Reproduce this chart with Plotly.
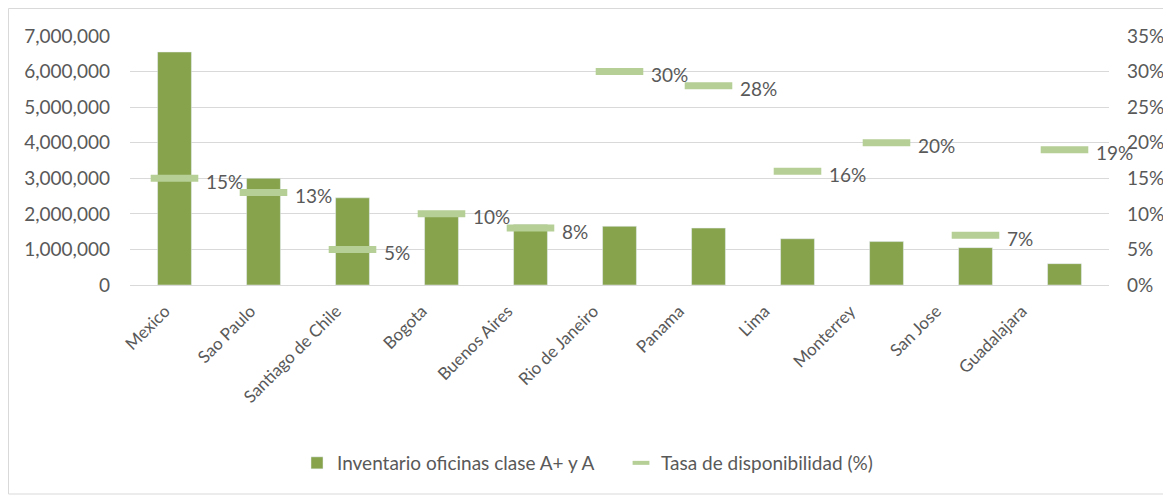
import plotly.graph_objects as go

cities = ["Mexico", "Sao Paulo", "Santiago de Chile", "Bogota", "Buenos Aires",
          "Rio de Janeiro", "Panama", "Lima", "Monterrey", "San Jose", "Guadalajara"]
inventario = [6550000, 3000000, 2450000, 2050000, 1700000, 1650000, 1600000,
              1300000, 1220000, 1050000, 600000]
tasa = [15, 13, 5, 10, 8, 30, 28, 16, 20, 7, 19]
left_ticks = [0, 1000000, 2000000, 3000000, 4000000, 5000000, 6000000, 7000000]
right_ticks = [0, 5, 10, 15, 20, 25, 30, 35]

BAR = "#87a34b"
MARK = "#b6cf96"
TXT = "#595959"
FONT = "Lato"

# figure size / plot area in figure pixels (page adds an 8px body margin)
W, H = 1163, 488
L, R, T, B = 122, 1101, 28, 277

fig = go.Figure()
fig.add_trace(go.Bar(x=cities, y=inventario, name="Inventario oficinas clase A+ y A",
                     marker=dict(color=BAR), yaxis="y"))
fig.add_trace(go.Scatter(x=cities, y=tasa, name="Tasa de disponibilidad (%)",
                         mode="markers", yaxis="y2", showlegend=False,
                         legendgroup="tasa",
                         marker=dict(symbol="line-ew", size=34,
                                     line=dict(width=7, color=MARK), color=MARK)))
# legend entry with a small dash symbol
fig.add_trace(go.Scatter(x=[None], y=[None], name="Tasa de disponibilidad (%)",
                         mode="markers", yaxis="y2", legendgroup="tasa",
                         marker=dict(symbol="line-ew", size=12,
                                     line=dict(width=4, color=MARK), color=MARK)))
# invisible carrier for the category label axis
fig.add_trace(go.Scatter(x=[0], y=[0], xaxis="x2", yaxis="y", mode="markers",
                         marker=dict(opacity=0), showlegend=False, hoverinfo="skip"))

annotations = [dict(x=c, y=v, xref="x", yref="y2", text=f"{v}%", showarrow=False,
                    xanchor="left", yanchor="middle", xshift=29, yshift=-3,
                    font=dict(size=19, color=TXT, family=FONT))
               for c, v in zip(cities, tasa)]


def px(xp):
    return (xp - L) / (R - L)


def py(yp):
    return (B - yp) / (B - T)


n = len(cities)
fig.update_layout(
    width=W, height=H,
    margin=dict(l=L, r=W - R, t=T, b=H - B),
    paper_bgcolor="white", plot_bgcolor="white",
    font=dict(family=FONT, color=TXT, size=17),
    bargap=0.62,
    showlegend=True,
    legend=dict(orientation="h", x=px(289), xanchor="left", y=py(455), yanchor="middle",
                font=dict(size=19, color=TXT, family=FONT), itemwidth=30,
                entrywidth=279, entrywidthmode="pixels"),
    xaxis=dict(range=[-0.5, n - 0.5], showgrid=False, showticklabels=False,
               showline=True, linecolor="#d9d9d9", linewidth=1, ticks="",
               automargin=False),
    xaxis2=dict(type="linear", overlaying="x", anchor="y", side="bottom",
                range=[-0.408, 11.016], tickmode="array",
                tickvals=list(range(n)), ticktext=cities, tickangle=-45,
                showgrid=False, showline=False, zeroline=False, ticks="",
                tickfont=dict(size=17, color=TXT), automargin=False,
                ticklabelstandoff=12),
    yaxis=dict(range=[0, 7000000], tickmode="array", tickvals=left_ticks,
               ticktext=[f"{v:,}" for v in left_ticks],
               showgrid=True, gridcolor="#d9d9d9", gridwidth=1, zeroline=False,
               ticks="", tickfont=dict(size=19, color=TXT), automargin=False,
               ticklabelstandoff=19),
    yaxis2=dict(range=[0, 35], tickmode="array", tickvals=right_ticks,
                ticktext=[f"{v}%" for v in right_ticks],
                overlaying="y", side="right", showgrid=False, zeroline=False,
                tickfont=dict(size=19, color=TXT), automargin=False,
                ticklabelstandoff=17),
    annotations=annotations,
    shapes=[dict(type="rect", xref="paper", yref="paper",
                 x0=px(0.5), x1=px(1250), y0=py(486), y1=py(0.5),
                 line=dict(color="#d9d9d9", width=1), fillcolor="rgba(0,0,0,0)",
                 layer="below")],
)

fig.write_html("out.html")
